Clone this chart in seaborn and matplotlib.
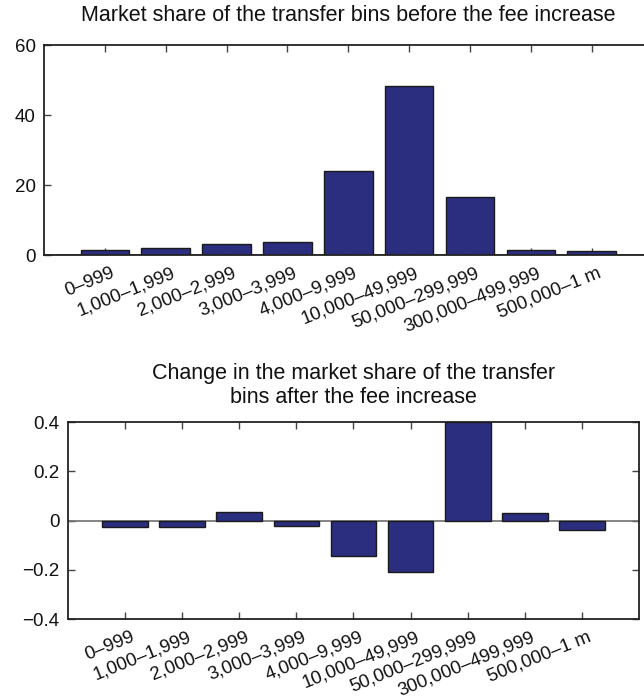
"""
plot.py
=======
Market share of the transfer bins before / change after the fee increase.
"""

import numpy as np
import pandas as pd
import matplotlib
matplotlib.use("Agg")
import matplotlib.pyplot as plt
import matplotlib.transforms as mtransforms
import seaborn as sns

BAR_COLOR = "#2b2d7e"
EDGE      = "#1a1a1a"
SPINE     = "#222222"

# ── data ─────────────────────────────────────────────────────────────────────
bins = ["0–999", "1,000–1,999", "2,000–2,999", "3,000–3,999", "4,000–9,999",
        "10,000–49,999", "50,000–299,999", "300,000–499,999", "500,000–1 m"]
share_before = [1.3, 1.9, 3.2, 3.6, 24.0, 48.3, 16.7, 1.4, 1.1]
share_change = [-0.026, -0.028, 0.035, -0.022, -0.143, -0.208, 0.40, 0.031, -0.038]

top_yticks  = [0, 20, 40, 60]
top_ylabels = ["0", "20", "40", "60"]
bot_yticks  = [-0.4, -0.2, 0, 0.2, 0.4]
bot_ylabels = ["−0.4", "−0.2", "0", "0.2", "0.4"]

title_top = "Market share of the transfer bins before the fee increase"
title_bot = "Change in the market share of the transfer\nbins after the fee increase"


def _style() -> None:
    sns.set_theme(style="white")
    plt.rcParams.update({
        "font.family":      ["Liberation Sans", "DejaVu Sans"],
        "axes.edgecolor":   SPINE,
        "axes.linewidth":   1.3,
        "xtick.color":      "#444444",
        "ytick.color":      "#444444",
        "xtick.labelcolor": "#111111",
        "ytick.labelcolor": "#111111",
        "text.color":       "#111111",
    })


def _panel(ax, values, yticks, ylabels, title, ylim, fig, title_pad):
    df = pd.DataFrame({"bin": bins, "value": values})
    sns.barplot(data=df, x="bin", y="value", color=BAR_COLOR, saturation=1,
                width=0.8, edgecolor=EDGE, linewidth=1.0, ax=ax, zorder=3)
    ax.axhline(0, color="#707070", linewidth=1.2, zorder=2)
    ax.set_xlim(-1, 9)
    ax.set_ylim(*ylim)
    ax.set_yticks(yticks)
    ax.set_yticklabels(ylabels, fontsize=13.5)
    ax.set_xlabel("")
    ax.set_ylabel("")
    ax.tick_params(direction="in", length=5, width=1.0, top=True, right=True,
                   bottom=True, left=True, pad=6)
    ax.set_xticks(range(len(bins)))
    offset = mtransforms.ScaledTranslation(4 / 72, -1 / 72, fig.dpi_scale_trans)
    ax.set_xticklabels(bins, rotation=22, ha="right", rotation_mode="anchor",
                       fontsize=13.5)
    for lab in ax.get_xticklabels():
        lab.set_transform(lab.get_transform() + offset)
    ax.set_title(title, fontsize=15.5, pad=title_pad, linespacing=1.15)
    for s in ax.spines.values():
        s.set_visible(True)
        s.set_zorder(4)


def main() -> None:
    _style()
    fig = plt.figure(figsize=(6.44, 7.0), dpi=100)
    ax1 = fig.add_axes([0.0683, 0.6357, 0.945, 0.300])
    ax2 = fig.add_axes([0.1056, 0.1157, 0.8866, 0.2814])

    _panel(ax1, share_before, top_yticks, top_ylabels, title_top, (0, 60), fig, 17)
    _panel(ax2, share_change, bot_yticks, bot_ylabels, title_bot, (-0.4, 0.4), fig, 14)

    fig.savefig("out.png", dpi=100, facecolor="white")


if __name__ == "__main__":
    main()
